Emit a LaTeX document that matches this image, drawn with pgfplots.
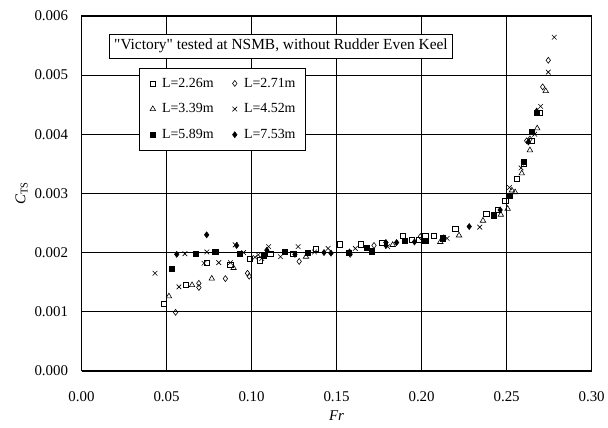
\documentclass[border=0pt]{standalone}
\usepackage{pgfplots}
\pgfplotsset{compat=1.18}
\usepackage{fontspec}
\setmainfont{Liberation Serif}
\begin{document}
\begin{tikzpicture}
\begin{axis}[
  scale only axis, width=513pt, height=357pt,
  xmin=0, xmax=0.3, ymin=0, ymax=0.006,
  xtick={0,0.05,...,0.301}, ytick={0,0.001,...,0.0061},
  scaled x ticks=false, scaled y ticks=false,
  x tick label style={/pgf/number format/.cd, fixed, fixed zerofill, precision=2},
  y tick label style={/pgf/number format/.cd, fixed, fixed zerofill, precision=3},
  /pgf/number format/assume math mode=true,
  ticklabel style={font=\fontsize{15}{18}\selectfont},
  xticklabel shift=17pt, yticklabel shift=10pt,
  major tick length=0pt,
  grid=major, grid style={black, line width=0.7pt},
  axis line style={black, line width=1.1pt},
  xlabel={\textit{Fr}}, ylabel={\textit{C}\textsubscript{TS}},
  label style={font=\fontsize{15}{18}\selectfont},
  xlabel style={yshift=-2pt},
  ylabel style={yshift=0pt},
  legend columns=2,
  legend style={at={(rel axis cs:0.113,0.854)}, anchor=north west, draw=black, line width=0.8pt,
    font=\fontsize{14}{16}\selectfont, inner xsep=8pt, inner ysep=8pt, row sep=11pt,
    /tikz/every even column/.append style={column sep=14pt}},
  legend cell align=left,
  legend image code/.code={\draw[mark repeat=2,mark phase=2,#1] plot coordinates {(0pt,0pt) (5pt,0pt) (10pt,0pt)}; \path (0pt,0pt) (12pt,0pt);},
  every axis plot/.append style={only marks, black, line width=0.6pt},
]
\addplot[mark=square, mark size=2.6pt] coordinates {
(0.0485,0.00113)(0.0612,0.00145)(0.0737,0.00182)(0.0875,0.00180)(0.0988,0.00190)(0.105,0.00187)(0.111,0.00198)(0.1245,0.00198)(0.138,0.00207)(0.1518,0.00214)(0.164,0.00214)(0.1765,0.00217)(0.1888,0.00229)(0.194,0.00221)(0.1985,0.00221)(0.2022,0.00229)(0.2073,0.00228)(0.2198,0.0024)(0.238,0.00266)(0.2446,0.00272)(0.2492,0.00288)(0.2562,0.00324)(0.2603,0.0035)(0.2648,0.00389)(0.2692,0.00436)};
\addlegendentry{L=2.26m}
\addplot[mark=diamond, mark size=3pt] coordinates {
(0.0553,0.00099)(0.069,0.00148)(0.069,0.00141)(0.0846,0.00156)(0.0976,0.00165)(0.0986,0.0016)(0.128,0.00185)(0.158,0.00197)(0.172,0.00212)(0.1993,0.00227)(0.2618,0.00389)(0.2637,0.00392)(0.2712,0.0048)(0.2745,0.00525)};
\addlegendentry{L=2.71m}
\addplot[mark=triangle, mark size=3.2pt] coordinates {
(0.0514,0.00126)(0.065,0.00145)(0.0766,0.00156)(0.0894,0.00174)(0.132,0.00193)(0.183,0.00213)(0.211,0.00218)(0.222,0.00229)(0.2361,0.00254)(0.2466,0.00264)(0.2506,0.00274)(0.2531,0.00305)(0.255,0.00302)(0.2589,0.00334)(0.2637,0.00373)(0.268,0.0041)(0.273,0.00473)};
\addlegendentry{L=3.39m}
\addplot[mark=x, mark size=3.3pt] coordinates {
(0.0432,0.00165)(0.0573,0.00142)(0.0608,0.00198)(0.072,0.00182)(0.0737,0.00201)(0.0807,0.00183)(0.0875,0.00183)(0.0904,0.00213)(0.0953,0.002)(0.102,0.00192)(0.104,0.00196)(0.106,0.0019)(0.110,0.0021)(0.117,0.00193)(0.1274,0.0021)(0.137,0.00201)(0.145,0.00207)(0.161,0.00207)(0.180,0.0021)(0.215,0.00224)(0.2342,0.00243)(0.2517,0.0031)(0.2585,0.00343)(0.2665,0.004)(0.270,0.00447)(0.2745,0.00505)(0.278,0.00564)};
\addlegendentry{L=4.52m}
\addplot[mark=square*, mark size=2.6pt] coordinates {
(0.053,0.00172)(0.067,0.00198)(0.0787,0.00201)(0.0933,0.00198)(0.107,0.00195)(0.1196,0.00201)(0.133,0.002)(0.157,0.00199)(0.1678,0.00208)(0.1707,0.00202)(0.19,0.0022)(0.2022,0.0022)(0.2125,0.00224)(0.2424,0.00263)(0.2521,0.00296)(0.2603,0.00353)(0.2648,0.00404)(0.2677,0.00436)};
\addlegendentry{L=5.89m}
\addplot[mark=diamond*, mark size=3pt] coordinates {
(0.056,0.00197)(0.0736,0.0023)(0.0912,0.00212)(0.109,0.00204)(0.1255,0.00197)(0.1426,0.002)(0.1467,0.00199)(0.1576,0.00201)(0.179,0.00217)(0.179,0.00212)(0.1853,0.00217)(0.1958,0.00218)(0.213,0.00225)(0.228,0.00244)(0.2462,0.00272)(0.2628,0.00387)(0.2677,0.00439)};
\addlegendentry{L=7.53m}
\node[draw=black, fill=white, line width=0.8pt, inner xsep=5pt, inner ysep=5pt,
  font=\fontsize{15.5}{18}\selectfont] at (rel axis cs:0.391,0.9146)
  {\textquotedbl Victory\textquotedbl{} tested at NSMB, without Rudder Even Keel};
\end{axis}
\path ([shift={(-82pt,-57pt)}]current axis.south west) rectangle ([shift={(13pt,16pt)}]current axis.north east);
\end{tikzpicture}
\end{document}
